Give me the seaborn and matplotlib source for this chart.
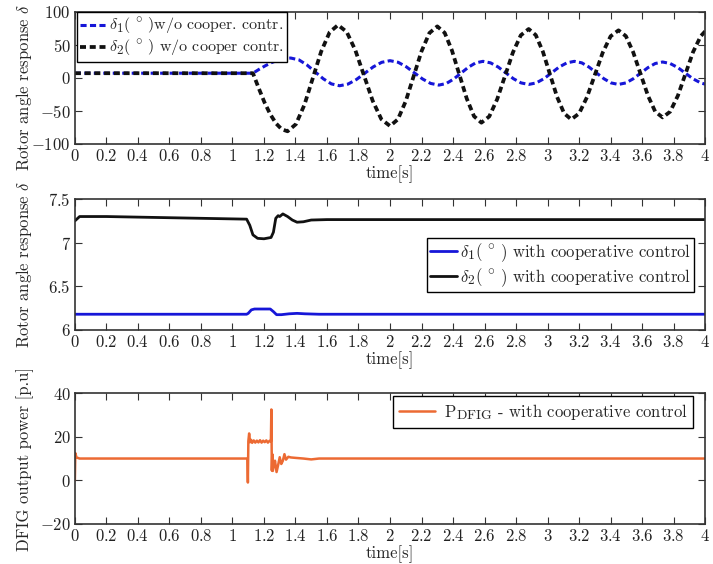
import matplotlib
matplotlib.use('Agg')
import matplotlib.pyplot as plt
from matplotlib.ticker import MultipleLocator, FuncFormatter, FixedLocator
import matplotlib._mathtext as _mt
import seaborn as sns
import pandas as pd

# larger sub/superscripts, as in the reference typesetting
_mt.SHRINK_FACTOR = 0.82

# ---------------- data ----------------
# top panel: without cooperative control
t_d1 = [0.0, 1.13, 1.17, 1.21, 1.25, 1.29, 1.33, 1.37, 1.422, 1.473, 1.525, 1.577, 1.628, 1.68,
        1.733, 1.787, 1.84, 1.893, 1.947, 2.00, 2.052, 2.103, 2.155, 2.207, 2.258, 2.31,
        2.357, 2.403, 2.45, 2.497, 2.543, 2.59, 2.638, 2.687, 2.735, 2.783, 2.832, 2.88,
        2.928, 2.977, 3.025, 3.073, 3.122, 3.17, 3.217, 3.263, 3.31, 3.357, 3.403, 3.45,
        3.497, 3.543, 3.59, 3.637, 3.683, 3.73, 3.778, 3.827, 3.875, 3.923, 3.972, 4.0]
v_d1 = [7, 7, 13, 18.5, 23.3, 26.9, 29.2, 30, 27.2, 19.5, 9, -1.5, -9.2, -12,
        -9.5, -2.5, 7, 16.5, 23.5, 26, 23.5, 16.8, 7.5, -1.8, -8.5, -11,
        -8.6, -2, 7, 16, 22.6, 25, 22.7, 16.3, 7.5, -1.3, -7.7, -10,
        -7.7, -1.3, 7.5, 16.3, 22.7, 25, 22.7, 16.3, 7.5, -1.3, -7.7, -10,
        -7.7, -1.5, 7, 15.5, 21.7, 24, 21.7, 15.5, 7, -1.5, -7.7, -9.6]

t_d2 = [0.0, 1.13, 1.167, 1.203, 1.24, 1.277, 1.313, 1.35, 1.403, 1.457, 1.51, 1.563, 1.617, 1.67,
        1.725, 1.78, 1.835, 1.89, 1.945, 2.00, 2.05, 2.10, 2.15, 2.20, 2.25, 2.30,
        2.347, 2.393, 2.44, 2.487, 2.533, 2.58, 2.63, 2.68, 2.73, 2.78, 2.83, 2.88,
        2.925, 2.97, 3.015, 3.06, 3.105, 3.15, 3.20, 3.25, 3.30, 3.35, 3.40, 3.45,
        3.497, 3.543, 3.59, 3.637, 3.683, 3.73, 3.778, 3.827, 3.875, 3.923, 3.972, 4.0]
v_d2 = [7, 7, -15.8, -37, -55.2, -69.2, -78, -81, -70.2, -40.8, -0.5, 39.8, 69.2, 80,
        69.7, 41.8, 3.5, -34.8, -62.7, -73, -62.9, -35.3, 2.5, 40.3, 67.9, 78,
        68.2, 41.5, 5, -31.5, -58.2, -68, -58.5, -32.5, 3, 38.5, 64.5, 74,
        64.8, 39.8, 5.5, -28.8, -53.8, -63, -54, -29.3, 4.5, 38.3, 63, 72,
        63.2, 39, 6, -27, -51.2, -60, -51.2, -27, 6, 39, 63.2, 70.5]

# middle panel: with cooperative control
t_c1 = [0.0, 1.09, 1.10, 1.12, 1.14, 1.24, 1.26, 1.28, 1.31, 1.36, 1.41, 1.46, 1.55, 4.0]
v_c1 = [6.18, 6.18, 6.19, 6.23, 6.24, 6.24, 6.21, 6.175, 6.175, 6.185, 6.19, 6.185, 6.18, 6.18]
t_c2 = [0.0, 0.03, 0.2, 1.09, 1.11, 1.13, 1.16, 1.20, 1.245, 1.26, 1.275, 1.29, 1.30, 1.32,
        1.35, 1.38, 1.41, 1.45, 1.50, 1.60, 4.0]
v_c2 = [7.25, 7.30, 7.30, 7.27, 7.20, 7.09, 7.05, 7.045, 7.06, 7.12, 7.28, 7.31, 7.30, 7.33,
        7.30, 7.26, 7.235, 7.24, 7.26, 7.265, 7.265]

# bottom panel: DFIG output power
t_p = [0.0, 0.003, 0.01, 0.03, 1.095, 1.098, 1.101, 1.106, 1.112, 1.118, 1.125,
       1.135, 1.145, 1.155, 1.165, 1.175, 1.185, 1.195, 1.205, 1.215, 1.225, 1.235,
       1.244, 1.247, 1.250, 1.253, 1.256, 1.262, 1.27, 1.28, 1.29, 1.30, 1.31, 1.32, 1.33, 1.34,
       1.355, 1.37, 1.40, 1.45, 1.50, 1.55, 4.0]
v_p = [0, 12.5, 10.5, 10, 10, -1, 18, 21.5, 17.5, 18.6, 17.2,
       18.3, 17.3, 18.2, 17.4, 18.4, 17.3, 18.2, 17.5, 18.3, 17.3, 18.1,
       17.8, 32.5, 4.5, 12, 4.3, 6.5, 9, 3.8, 7, 10.6, 7.5, 9, 12, 9.5,
       10.8, 10.5, 10.3, 10, 9.6, 10, 10]

labels_top = [r'$\delta_1(\ ^{\circ}\ )$w/o cooper. contr.',
              r'$\delta_2(\ ^{\circ}\ )$ w/o cooper contr.']
labels_mid = [r'$\delta_1(\ ^{\circ}\ )$ with cooperative control',
              r'$\delta_2(\ ^{\circ}\ )$ with cooperative control']
label_bot = r'$\mathrm{P}_{\mathrm{DFIG}}$ - with cooperative control'
ylabels = [r'Rotor angle response $\delta$', r'Rotor angle response $\delta$',
           'DFIG output power [p.u]']
xlabel = 'time[s]'

# ---------------- style ----------------
sns.set_style('ticks')
plt.rcParams.update({
    'font.family': ['cmr10', 'DejaVu Serif'],
    'mathtext.fontset': 'cm',
    'axes.formatter.use_mathtext': True,
    'xtick.direction': 'in', 'ytick.direction': 'in',
    'xtick.top': True, 'ytick.right': True,
    'xtick.major.size': 5, 'ytick.major.size': 5,
    'xtick.major.width': 0.8, 'ytick.major.width': 0.8,
    'xtick.color': '#333333', 'ytick.color': '#333333',
    'axes.edgecolor': '#333333', 'axes.linewidth': 1.2,
    'axes.unicode_minus': True,
})

BLUE = '#1616d8'
BLACK = '#111111'
ORANGE = '#ec6a33'
FS = 12

fig = plt.figure(figsize=(7.13, 5.64), dpi=100)
ax1 = fig.add_axes([0.105, 0.745, 0.884, 0.234])
ax2 = fig.add_axes([0.105, 0.415, 0.884, 0.232])
ax3 = fig.add_axes([0.105, 0.071, 0.884, 0.232])

fmt = FuncFormatter(lambda v, p: f'${round(v, 2):g}$')

# top
sns.lineplot(x=t_d1, y=v_d1, ax=ax1, color=BLUE, lw=2.2, estimator=None, sort=False,
             dashes=False, linestyle=(0, (2.0, 1.1)), label=labels_top[0])
sns.lineplot(x=t_d2, y=v_d2, ax=ax1, color=BLACK, lw=2.7, estimator=None, sort=False,
             dashes=False, linestyle=(0, (1.6, 1.0)), label=labels_top[1])
ax1.set_ylim(-100, 100)
ax1.yaxis.set_major_locator(FixedLocator([-100, -50, 0, 50, 100]))

# middle
sns.lineplot(x=t_c1, y=v_c1, ax=ax2, color=BLUE, lw=2.0, estimator=None, sort=False,
             label=labels_mid[0])
sns.lineplot(x=t_c2, y=v_c2, ax=ax2, color=BLACK, lw=2.0, estimator=None, sort=False,
             label=labels_mid[1])
ax2.set_ylim(6, 7.5)
ax2.yaxis.set_major_locator(FixedLocator([6, 6.5, 7, 7.5]))

# bottom
sns.lineplot(x=t_p, y=v_p, ax=ax3, color=ORANGE, lw=1.8, estimator=None, sort=False,
             label=label_bot)
ax3.set_ylim(-20, 40)
ax3.yaxis.set_major_locator(FixedLocator([-20, 0, 20, 40]))

leg_kw = dict(frameon=True, fancybox=False, framealpha=1, edgecolor='black',
              fontsize=FS, handlelength=1.6, handletextpad=0.2, borderpad=0.2,
              labelspacing=0.1, borderaxespad=0)
l1 = ax1.legend(loc='upper left', bbox_to_anchor=(0.003, 0.997),
                **{**leg_kw, 'fontsize': 11.5})
l2 = ax2.legend(loc='upper right', bbox_to_anchor=(0.983, 0.702), **leg_kw)
l3 = ax3.legend(loc='upper right', bbox_to_anchor=(0.981, 0.977),
                **{**leg_kw, 'handlelength': 2.2, 'handletextpad': 0.5, 'borderpad': 0.35})
for lg in (l1, l2, l3):
    lg.get_frame().set_linewidth(1.0)

ylab_y = [0.43, 0.5, 0.5]
for ax, yl, yy in zip((ax1, ax2, ax3), ylabels, ylab_y):
    ax.set_xlim(0, 4)
    ax.xaxis.set_major_locator(MultipleLocator(0.2))
    ax.xaxis.set_major_formatter(fmt)
    ax.yaxis.set_major_formatter(fmt)
    ax.tick_params(labelsize=FS, pad=3, colors='#333333', labelcolor='#222222')
    ax.set_xlabel(xlabel, fontsize=FS, labelpad=1)
    ax.set_ylabel(yl, fontsize=FS)
    ax.yaxis.set_label_coords(-0.065, yy)
    for s in ax.spines.values():
        s.set_visible(True)

fig.savefig('out.png', dpi=100)
